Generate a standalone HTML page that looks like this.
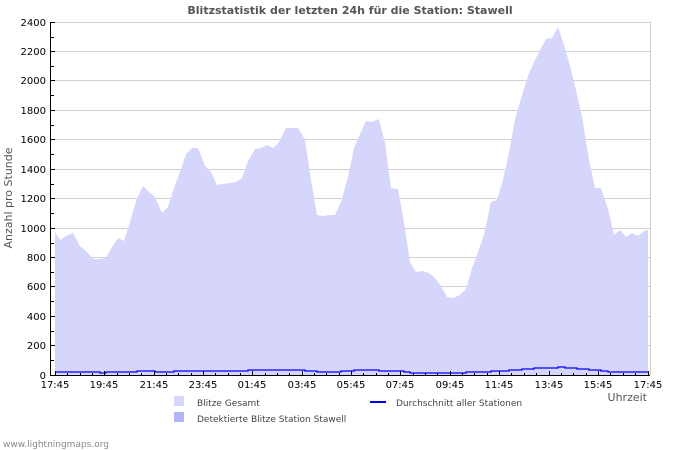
<!DOCTYPE html>
<html><head><meta charset="utf-8"><style>
body{margin:0;background:#fff;}
svg{display:block;font-family:"DejaVu Sans","Liberation Sans",sans-serif;}
</style></head><body>
<svg width="700" height="450" viewBox="0 0 700 450" xmlns="http://www.w3.org/2000/svg">
<rect width="700" height="450" fill="#fff"/>
<text x="350" y="14" text-anchor="middle" font-size="11" font-weight="bold" fill="#555">Blitzstatistik der letzten 24h für die Station: Stawell</text>
<g stroke="#d0d0d0" stroke-width="1">
<line x1="51" y1="22.5" x2="650" y2="22.5"/><line x1="51" y1="51.5" x2="650" y2="51.5"/><line x1="51" y1="80.5" x2="650" y2="80.5"/><line x1="51" y1="110.5" x2="650" y2="110.5"/><line x1="51" y1="139.5" x2="650" y2="139.5"/><line x1="51" y1="169.5" x2="650" y2="169.5"/><line x1="51" y1="198.5" x2="650" y2="198.5"/><line x1="51" y1="228.5" x2="650" y2="228.5"/><line x1="51" y1="257.5" x2="650" y2="257.5"/><line x1="51" y1="286.5" x2="650" y2="286.5"/><line x1="51" y1="316.5" x2="650" y2="316.5"/><line x1="51" y1="345.5" x2="650" y2="345.5"/>
<line x1="650.5" y1="22" x2="650.5" y2="375"/>
</g>
<polygon fill="#d6d6fc" points="55,375 55,232 60,240 66,236 73,233 80,246 87,252 93,259 100,259 106,258 112,247 118,238 124,241 130,222 137,198 143,186 149,192 155,197 162,213 168,207 174,188 180,172 186,154 192,148 198,148 205,166 211,172 217,185 223,184 230,183 236,182 242,178 248,161 255,149 261,148 267,145 273,148 279,142 286,128 292,128 298,128 305,140 311,180 317,215 323,216 329,215 335,215 341,202 348,177 354,148 360,134 366,121 372,122 379,119 385,143 391,188 398,189 404,223 410,262 416,272 422,271 429,273 435,278 441,286 447,297 453,298 460,295 466,289 472,268 478,252 484,235 491,202 497,200 503,180 509,153 515,119 522,95 528,76 534,62 540,50 546,39 552,38 558,27 565,48 571,70 577,94 583,122 589,160 595,188 601,188 608,209 614,235 620,230 626,237 632,233 638,236 644,231 648,230 648,375"/>
<polyline fill="none" stroke="#0000ff" stroke-width="1.3" points="55,372 100,372 100,373 106,373 106,372 137,372 137,371 155,371 155,372 174,372 174,371 248,371 248,370 305,370 305,371 317,371 317,372 341,372 341,371 354,371 354,370 379,370 379,371 404,371 404,372 410,372 410,373 466,373 466,372 491,372 491,371 509,371 509,370 522,370 522,369 534,369 534,368 558,368 558,367 565,367 565,368 577,368 577,369 589,369 589,370 601,370 601,371 608,371 608,372 648,372"/>
<line x1="50.5" y1="22" x2="50.5" y2="375" stroke="#000"/>
<line x1="50" y1="375.5" x2="650" y2="375.5" stroke="#000"/>
<g stroke="#000">
<path d="M51 22.5h4M51 37.5h3M51 51.5h4M51 66.5h3M51 80.5h4M51 95.5h3M51 110.5h4M51 125.5h3M51 139.5h4M51 154.5h3M51 169.5h4M51 184.5h3M51 198.5h4M51 213.5h3M51 228.5h4M51 243.5h3M51 257.5h4M51 272.5h3M51 286.5h4M51 301.5h3M51 316.5h4M51 331.5h3M51 345.5h4M51 360.5h3"/>
</g>
<g stroke="#000" id="xt"></g>
<path stroke="#000" d="M55.5 371v4M67.5 373v2M80.5 373v2M92.5 373v2M104.5 371v4M117.5 373v2M129.5 373v2M141.5 373v2M154.5 371v4M166.5 373v2M178.5 373v2M191.5 373v2M203.5 371v4M215.5 373v2M228.5 373v2M240.5 373v2M252.5 371v4M265.5 373v2M277.5 373v2M289.5 373v2M302.5 371v4M314.5 373v2M326.5 373v2M339.5 373v2M351.5 371v4M363.5 373v2M376.5 373v2M388.5 373v2M400.5 371v4M413.5 373v2M425.5 373v2M437.5 373v2M450.5 371v4M462.5 373v2M474.5 373v2M487.5 373v2M499.5 371v4M511.5 373v2M524.5 373v2M536.5 373v2M549.5 371v4M561.5 373v2M573.5 373v2M586.5 373v2M598.5 371v4M610.5 373v2M623.5 373v2M635.5 373v2M648.5 371v4"/>
<g font-size="10" fill="#000" text-anchor="end">
<text x="46" y="26">2400</text><text x="46" y="55">2200</text><text x="46" y="84">2000</text><text x="46" y="114">1800</text><text x="46" y="143">1600</text><text x="46" y="173">1400</text><text x="46" y="202">1200</text><text x="46" y="232">1000</text><text x="46" y="261">800</text><text x="46" y="290">600</text><text x="46" y="320">400</text><text x="46" y="349">200</text><text x="46" y="379">0</text>
</g>
<g font-size="10" fill="#000" text-anchor="middle">
<text x="55" y="388">17:45</text><text x="104" y="388">19:45</text><text x="154" y="388">21:45</text><text x="203" y="388">23:45</text><text x="252" y="388">01:45</text><text x="302" y="388">03:45</text><text x="351" y="388">05:45</text><text x="400" y="388">07:45</text><text x="450" y="388">09:45</text><text x="499" y="388">11:45</text><text x="549" y="388">13:45</text><text x="598" y="388">15:45</text><text x="648" y="388">17:45</text>
</g>
<text x="12" y="198" font-size="11" fill="#555" text-anchor="middle" transform="rotate(-90 12 198)">Anzahl pro Stunde</text>
<text x="647" y="401" font-size="11" fill="#555" text-anchor="end">Uhrzeit</text>
<rect x="174" y="396" width="10" height="10" fill="#d6d6fc"/>
<rect x="174" y="412" width="10" height="10" fill="#b4b4f8"/>
<text x="197" y="406" font-size="9" fill="#444">Blitze Gesamt</text>
<text x="197" y="422" font-size="9" fill="#444">Detektierte Blitze Station Stawell</text>
<line x1="370" y1="402" x2="386" y2="402" stroke="#0000ff" stroke-width="2"/>
<text x="396" y="406" font-size="9" fill="#444">Durchschnitt aller Stationen</text>
<text x="3" y="447" font-size="9" fill="#888">www.lightningmaps.org</text>
</svg>
</body></html>
